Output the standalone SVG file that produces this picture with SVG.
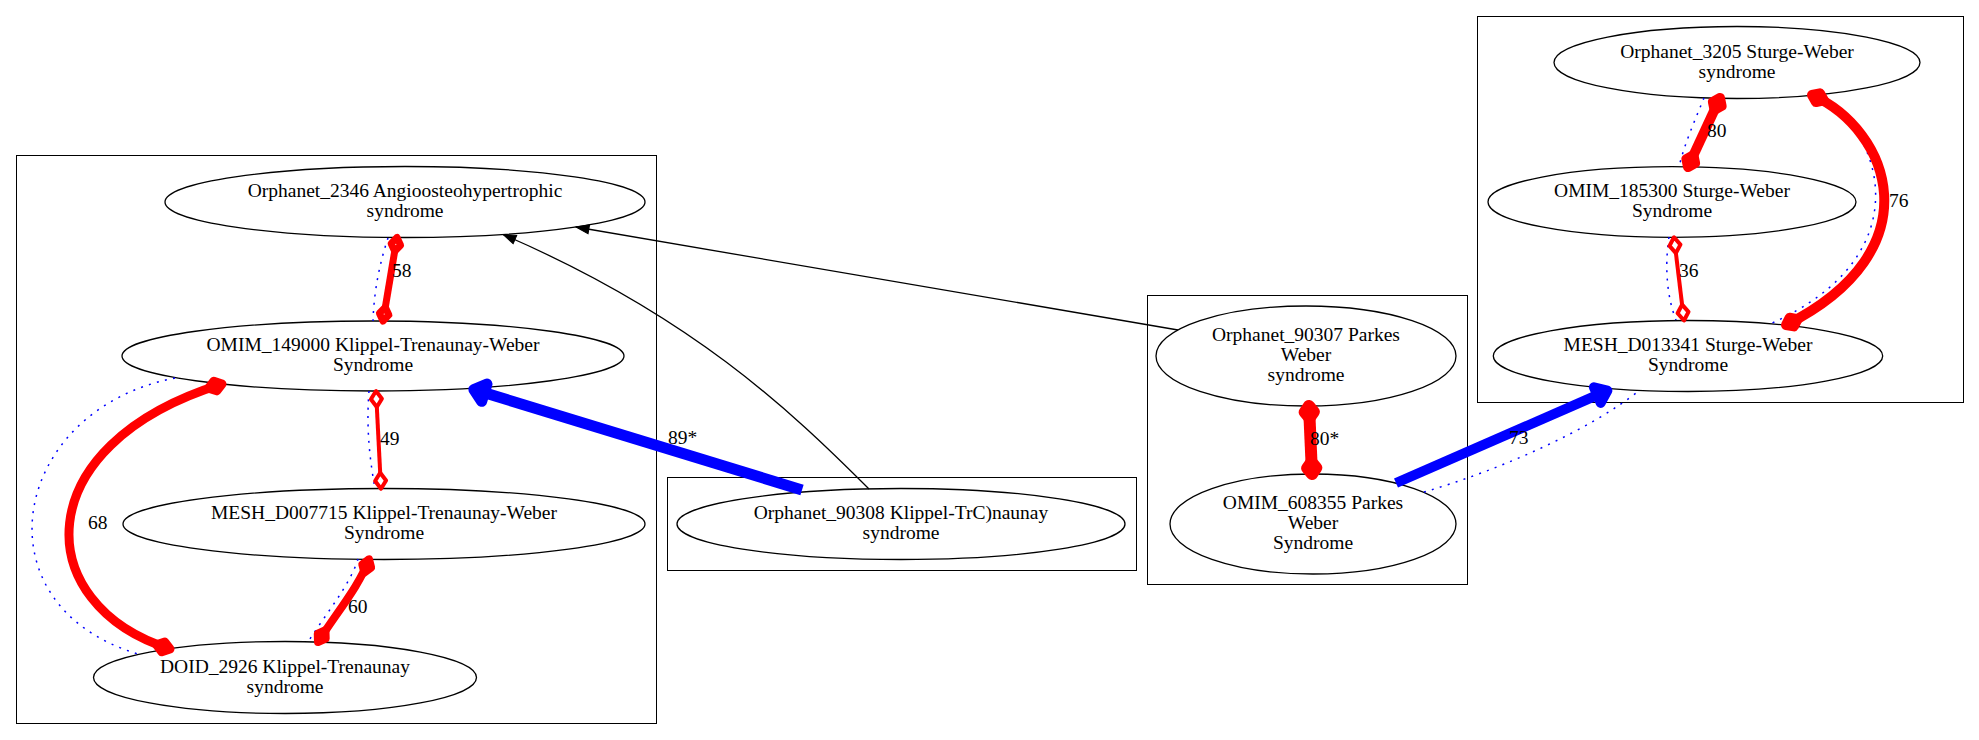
<svg xmlns="http://www.w3.org/2000/svg" width="1979" height="740" viewBox="0 0 1979 740">
<style>
.bg{fill:#fff}
.cl{fill:none;stroke:#000;stroke-width:1}
.nd{fill:none;stroke:#000;stroke-width:1.3}
.t{font-family:"Liberation Serif","Times New Roman",serif;font-size:19.5px;fill:#000;text-anchor:middle}
.lb{font-family:"Liberation Serif","Times New Roman",serif;font-size:19.5px;fill:#000}
.red{fill:none;stroke:#f00;stroke-linecap:butt}
.dot{fill:none;stroke:#00f;stroke-width:1.5;stroke-dasharray:2 6.3}
.blue{fill:none;stroke:#00f}
.blk{fill:none;stroke:#000;stroke-width:1.3}
</style>
<defs>
<marker id="d4" markerUnits="userSpaceOnUse" orient="auto-start-reverse" refX="0" refY="0" markerWidth="40" markerHeight="40" overflow="visible"><path d="M0,0 L-8,-5.5 L-16,0 L-8,5.5 Z" fill="#fff" stroke="#f00" stroke-width="4" stroke-linejoin="round"/></marker>
<marker id="d7" markerUnits="userSpaceOnUse" orient="auto-start-reverse" refX="0" refY="0" markerWidth="40" markerHeight="40" overflow="visible"><path d="M0,0 L-7,-4.8 L-14,0 L-7,4.8 Z" fill="#fff" stroke="#f00" stroke-width="7" stroke-linejoin="round"/></marker>
<marker id="d8" markerUnits="userSpaceOnUse" orient="auto-start-reverse" refX="0" refY="0" markerWidth="40" markerHeight="40" overflow="visible"><path d="M0,0 L-7,-4.7 L-14,0 L-7,4.7 Z" fill="#fff" stroke="#f00" stroke-width="8" stroke-linejoin="round"/></marker>
<marker id="d9" markerUnits="userSpaceOnUse" orient="auto-start-reverse" refX="0" refY="0" markerWidth="40" markerHeight="40" overflow="visible"><path d="M0,0 L-7,-5 L-14,0 L-7,5 Z" fill="#fff" stroke="#f00" stroke-width="9" stroke-linejoin="round"/></marker>
<marker id="d10" markerUnits="userSpaceOnUse" orient="auto-start-reverse" refX="0" refY="0" markerWidth="40" markerHeight="40" overflow="visible"><path d="M0,0 L-6.5,-4.8 L-13,0 L-6.5,4.8 Z" fill="#fff" stroke="#f00" stroke-width="10" stroke-linejoin="round"/></marker>
<marker id="d12" markerUnits="userSpaceOnUse" orient="auto-start-reverse" refX="0" refY="0" markerWidth="40" markerHeight="40" overflow="visible"><path d="M0,0 L-6,-4.5 L-12,0 L-6,4.5 Z" fill="#fff" stroke="#f00" stroke-width="12" stroke-linejoin="round"/></marker>
<marker id="a11" markerUnits="userSpaceOnUse" orient="auto" refX="0" refY="0" markerWidth="40" markerHeight="40" overflow="visible"><path d="M0,0 L-11,-9 L-11,9 Z" fill="#00f" stroke="#00f" stroke-width="11" stroke-linejoin="round"/></marker>
<marker id="a10" markerUnits="userSpaceOnUse" orient="auto" refX="0" refY="0" markerWidth="40" markerHeight="40" overflow="visible"><path d="M0,0 L-11,-8.5 L-11,8.5 Z" fill="#00f" stroke="#00f" stroke-width="10" stroke-linejoin="round"/></marker>
<marker id="ab" markerUnits="userSpaceOnUse" orient="auto" refX="0" refY="0" markerWidth="30" markerHeight="30" overflow="visible"><path d="M0,0 L-13,-4.5 L-13,4.5 Z" fill="#000" stroke="#000" stroke-width="1"/></marker>
</defs>
<rect class="bg" x="0" y="0" width="1979" height="740"/>
<g id="clusters">
<rect id="cluster_ktw" class="cl" x="16.5" y="155.5" width="640" height="568"/>
<rect id="cluster_90308" class="cl" x="667.5" y="477.5" width="469" height="93"/>
<rect id="cluster_parkes" class="cl" x="1147.5" y="295.5" width="320" height="289"/>
<rect id="cluster_sturge" class="cl" x="1477.5" y="16.5" width="486" height="386"/>
</g>
<g id="Orphanet_2346"><ellipse class="nd" cx="405" cy="202" rx="240" ry="35.5"/><text class="t" x="405" y="197">Orphanet_2346 Angioosteohypertrophic</text><text class="t" x="405" y="217">syndrome</text></g>
<g id="OMIM_149000"><ellipse class="nd" cx="373" cy="356" rx="251" ry="35"/><text class="t" x="373" y="351">OMIM_149000 Klippel-Trenaunay-Weber</text><text class="t" x="373" y="371">Syndrome</text></g>
<g id="MESH_D007715"><ellipse class="nd" cx="384" cy="524" rx="261" ry="35.5"/><text class="t" x="384" y="519">MESH_D007715 Klippel-Trenaunay-Weber</text><text class="t" x="384" y="539">Syndrome</text></g>
<g id="DOID_2926"><ellipse class="nd" cx="285" cy="677.5" rx="191.5" ry="36"/><text class="t" x="285" y="672.5">DOID_2926 Klippel-Trenaunay</text><text class="t" x="285" y="692.5">syndrome</text></g>
<g id="Orphanet_90308"><ellipse class="nd" cx="901" cy="524" rx="224" ry="35.5"/><text class="t" x="901" y="519">Orphanet_90308 Klippel-TrC)naunay</text><text class="t" x="901" y="539">syndrome</text></g>
<g id="Orphanet_90307"><ellipse class="nd" cx="1306" cy="356" rx="150" ry="50"/><text class="t" x="1306" y="341">Orphanet_90307 Parkes</text><text class="t" x="1306" y="361">Weber</text><text class="t" x="1306" y="381">syndrome</text></g>
<g id="OMIM_608355"><ellipse class="nd" cx="1313" cy="524" rx="143" ry="50"/><text class="t" x="1313" y="509">OMIM_608355 Parkes</text><text class="t" x="1313" y="529">Weber</text><text class="t" x="1313" y="549">Syndrome</text></g>
<g id="Orphanet_3205"><ellipse class="nd" cx="1737" cy="62.5" rx="183" ry="36"/><text class="t" x="1737" y="57.5">Orphanet_3205 Sturge-Weber</text><text class="t" x="1737" y="77.5">syndrome</text></g>
<g id="OMIM_185300"><ellipse class="nd" cx="1672" cy="202" rx="184" ry="35.3"/><text class="t" x="1672" y="197">OMIM_185300 Sturge-Weber</text><text class="t" x="1672" y="217">Syndrome</text></g>
<g id="MESH_D013341"><ellipse class="nd" cx="1688" cy="356" rx="194.7" ry="35.5"/><text class="t" x="1688" y="351">MESH_D013341 Sturge-Weber</text><text class="t" x="1688" y="371">Syndrome</text></g>
<g id="connectors">
<path class="blk" d="M869,489 C790,410 690,315 503,234.5" marker-end="url(#ab)"/>
<path class="blk" d="M1178,330 L576,227" marker-end="url(#ab)"/>
<path class="dot" d="M388,238 C380,262 374,290 373,321"/>
<path class="red" stroke-width="7" d="M397,237.5 L383,321" marker-start="url(#d7)" marker-end="url(#d7)"/>
<path class="dot" d="M369,391 C366,430 370,460 375,489"/>
<path class="red" stroke-width="4" d="M376,391 L381,488.7" marker-start="url(#d4)" marker-end="url(#d4)"/>
<path class="dot" d="M358,559 C350,585 325,615 308,642"/>
<path class="red" stroke-width="8" d="M369,559.3 C360,585 335,615 318,642" marker-start="url(#d8)" marker-end="url(#d8)"/>
<path class="dot" d="M175,378 C10,410 -25,605 138,654"/>
<path class="red" stroke-width="9" d="M222,384 C25,445 30,605 170,649" marker-start="url(#d9)" marker-end="url(#d9)"/>
<path class="blue" stroke-width="11" d="M802,490 L473.8,389.5" marker-end="url(#a11)"/>
<path class="red" stroke-width="12" d="M1309,406 L1312,474" marker-start="url(#d12)" marker-end="url(#d12)"/>
<path class="dot" d="M1424,492 C1500,470 1590,430 1640,390"/>
<path class="blue" stroke-width="10" d="M1396,483 L1607.4,390.7" marker-end="url(#a10)"/>
<path class="dot" d="M1704,98 C1695,120 1684,145 1679,167"/>
<path class="red" stroke-width="10" d="M1720,98 L1688,167" marker-start="url(#d10)" marker-end="url(#d10)"/>
<path class="dot" d="M1669,237 C1664,270 1668,300 1676,320"/>
<path class="red" stroke-width="4" d="M1674,237.3 L1684,320.5" marker-start="url(#d4)" marker-end="url(#d4)"/>
<path class="dot" d="M1820,96 C1880,130 1925,255 1770,324"/>
<path class="red" stroke-width="10" d="M1812,95 C1890,130 1935,250 1786,325" marker-start="url(#d10)" marker-end="url(#d10)"/>
<text class="lb" x="392" y="277">58</text>
<text class="lb" x="380" y="445">49</text>
<text class="lb" x="348" y="613">60</text>
<text class="lb" x="88" y="529">68</text>
<text class="lb" x="668" y="444">89*</text>
<text class="lb" x="1310" y="445">80*</text>
<text class="lb" x="1509" y="444">73</text>
<text class="lb" x="1707" y="137">80</text>
<text class="lb" x="1679" y="277">36</text>
<text class="lb" x="1889" y="207">76</text>
</g>
</svg>
